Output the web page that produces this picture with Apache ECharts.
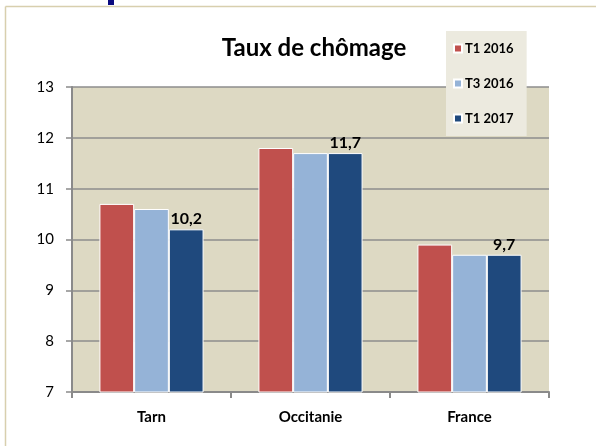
<!DOCTYPE html>
<html>
<head>
<meta charset="utf-8">
<script src="https://cdn.jsdelivr.net/npm/echarts@6/dist/echarts.min.js"></script>
<style>
html,body{margin:0;padding:0;background:#fff;}
#chart{width:596px;height:446px;}
</style>
</head>
<body>
<div id="chart"></div>
<script>
const categories = ['Tarn', 'Occitanie', 'France'];
const seriesNames = ['T1 2016', 'T3 2016', 'T1 2017'];
const t1_2016 = [10.7, 11.8, 9.9];
const t3_2016 = [10.6, 11.7, 9.7];
const t1_2017 = [10.2, 11.7, 9.7];
const yTicks = [7, 8, 9, 10, 11, 12, 13];

const colors = ['#C0504D', '#95B3D7', '#1F497D'];
const FONT = 'Lato, "Open Sans", sans-serif';

const chart = echarts.init(document.getElementById('chart'));
const dataSets = [t1_2016, t3_2016, t1_2017];

chart.setOption({
  animation: false,
  textStyle: { fontFamily: FONT },
  title: {
    text: 'Taux de chômage',
    left: 309, top: 31, textAlign: 'center',
    textStyle: { fontFamily: FONT, fontSize: 24, fontWeight: 'bold', color: '#000' }
  },
  legend: {
    orient: 'vertical',
    left: 446, top: 31,
    padding: [10, 13, 10, 7],
    backgroundColor: '#ECEADF',
    itemWidth: 8, itemHeight: 8, itemGap: 20,
    icon: 'rect',
    data: seriesNames,
    textStyle: { fontFamily: FONT, fontSize: 13, fontWeight: 'bold', color: '#000', lineHeight: 15, padding: [0,0,0,-2] }
  },
  graphic: [
    { type: 'line', shape: { x1: 5.5, y1: 6.5, x2: 596, y2: 6.5 }, style: { stroke: '#D8CFAE', lineWidth: 1.5 } },
    { type: 'line', shape: { x1: 5.5, y1: 6.5, x2: 5.5, y2: 446 }, style: { stroke: '#D8CFAE', lineWidth: 1.5 } },
    { type: 'rect', shape: { x: 108, y: 0, width: 6, height: 5 }, style: { fill: '#0A0A80' } }
  ],
  grid: {
    left: 72, right: 47, top: 87, bottom: 54,
    show: true, backgroundColor: '#DDD9C3', borderWidth: 0
  },
  xAxis: {
    type: 'category',
    data: categories,
    axisLine: { lineStyle: { color: '#8A8A8A', width: 2 } },
    axisTick: { show: true, length: 6, lineStyle: { color: '#8A8A8A', width: 2 } },
    axisLabel: { fontFamily: FONT, fontSize: 15, fontWeight: 'bold', color: '#000', margin: 18 }
  },
  yAxis: {
    type: 'value',
    min: yTicks[0], max: yTicks[yTicks.length - 1], interval: 1,
    axisLine: { show: true, lineStyle: { color: '#8A8A8A', width: 2 } },
    axisTick: { show: true, length: 6, lineStyle: { color: '#8A8A8A', width: 1.5 } },
    splitLine: { show: true, lineStyle: { color: '#8C8C8C', width: 1.5 } },
    axisLabel: { fontFamily: FONT, fontSize: 15, color: '#000', margin: 18 }
  },
  series: dataSets.map((d, i) => ({
    name: seriesNames[i],
    type: 'bar',
    data: d,
    barGap: '0%',
    barCategoryGap: '34.5%',
    itemStyle: { color: colors[i], borderColor: '#FFFFFF', borderWidth: 1 },
    label: i === 2 ? {
      show: true, position: 'top', distance: 2,
      fontFamily: FONT, fontSize: 16, fontWeight: 'bold', color: '#000',
      formatter: p => String(p.value).replace('.', ',')
    } : { show: false }
  }))
});
</script>
</body>
</html>
